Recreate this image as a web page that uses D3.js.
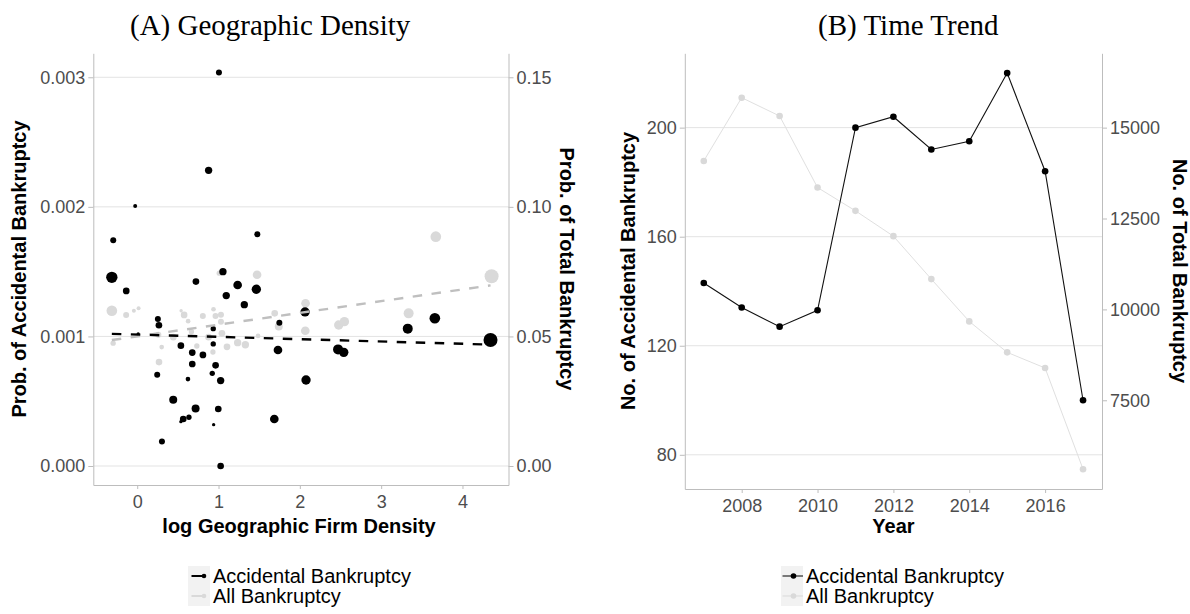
<!DOCTYPE html>
<html>
<head>
<meta charset="utf-8">
<script src="https://cdn.jsdelivr.net/npm/d3@7"></script>
<style>
  body { margin: 0; background: #fff; }
  svg { display: block; }
  .tick text { font-family: "Liberation Sans", Arial, sans-serif; font-size: 18px; fill: #4d4d4d; }
  .axis path, .axis line { stroke: #bdbdbd; }
  .ttl { font-family: "Liberation Serif", "Times New Roman", serif; font-size: 29px; fill: #000; }
  .atitle { font-family: "Liberation Sans", Arial, sans-serif; font-size: 20px; font-weight: bold; fill: #000; }
  .leg { font-family: "Liberation Sans", Arial, sans-serif; font-size: 20px; fill: #000; }
</style>
</head>
<body>
<svg width="1190" height="614"></svg>
<script>
// ---- panel A: region level probabilities vs log density
const accX = [1.005, 0.878, -0.025, -0.295, 1.477, -0.312, -0.135, 0.722, 1.054, 1.235, 1.465, 1.095, 1.317, 2.064, 1.748,
  3.327, 3.66, 4.345, 0.254, 0.267, 0.935, 0.012, 0.537, 0.935, 0.677, 0.808, 1.731, 2.47, 2.54, 0.677, 0.964, 0.246,
  0.923, 0.624, 1.026, 2.076, 0.443, 0.718, 0.997, 0.566, 0.636, 0.537, 0.94, 1.686, 0.304, 1.026];
const accProb = [0.003036, 0.002282, 0.002007, 0.001742, 0.001788, 0.001456, 0.001351, 0.001423, 0.0015, 0.001397,
  0.001364, 0.001315, 0.001245, 0.001189, 0.001106, 0.00106, 0.00114, 0.000972, 0.001135, 0.001086, 0.00106, 0.001019,
  0.000929, 0.000942, 0.000875, 0.000857, 0.000895, 0.0009, 0.000877, 0.000787, 0.000777, 0.000705, 0.000715, 0.000671,
  0.000659, 0.000664, 0.000512, 0.000443, 0.00044, 0.000363, 0.000376, 0.000342, 0.000319, 0.000363, 0.00019, 0.0];
const accSize = [9, 11, 6, 9, 9, 17, 10, 10, 11, 13, 14, 11, 11, 14, 9, 15, 16, 21, 9, 10, 8, 5, 10, 8, 10, 10, 13, 15, 14,
  10, 10, 9, 8, 7, 11, 14, 12, 12, 10, 10, 8, 5, 5, 13, 9, 10];

const totX = [3.672, 4.358, 1.474, 1.009, -0.312, -0.136, -0.041, 0.017, -0.296, 0.268, 0.301, 0.54, 0.577, 0.626, 0.807,
  0.938, 0.963, 1.03, 1.03, 1.042, 0.444, 0.667, 0.733, 0.877, 0.931, 1.104, 1.235, 1.33, 1.486, 1.691, 1.741, 2.07,
  2.067, 2.478, 2.548, 3.338, 0.26];
const totProb = [0.0885, 0.0732, 0.0738, 0.0744, 0.0599, 0.0583, 0.0599, 0.0609, 0.0474, 0.0401, 0.0459, 0.0599, 0.0583,
  0.0559, 0.0579, 0.0605, 0.0579, 0.0584, 0.0557, 0.0512, 0.0497, 0.0518, 0.0463, 0.0497, 0.044, 0.046, 0.0476, 0.0468,
  0.0502, 0.0589, 0.0538, 0.0628, 0.0522, 0.0544, 0.0557, 0.0589, 0.0506];
const totSize = [16, 21, 13, 8, 16, 9, 6, 6, 8, 10, 7, 5, 10, 7, 9, 7, 9, 9, 9, 10, 10, 8, 8, 10, 8, 10, 11, 11, 7, 10, 12,
  13, 13, 14, 14, 15, 9];

// fitted lines (end points)
const fitX = [-0.312, 4.345];
const accFit = [0.00102, 0.000937];
const totFit = [0.0486, 0.0697];

const xTicksA = [0, 1, 2, 3, 4];
const yTicksA = [0, 0.001, 0.002, 0.003];
const yTicksARight = [0, 0.05, 0.10, 0.15];

// ---- panel B: yearly counts
const years = [2007, 2008, 2009, 2010, 2011, 2012, 2013, 2014, 2015, 2016, 2017];
const accCount = [143, 134, 127, 133, 200, 204, 192, 195, 220, 184, 100];
const totCount = [14084, 15824, 15320, 13352, 12711, 12015, 10833, 9670, 8818, 8388, 5604];
const xTicksB = [2008, 2010, 2012, 2014, 2016];
const yTicksB = [80, 120, 160, 200];
const yTicksBRight = [7500, 10000, 12500, 15000];

const seriesNames = ["Accidental Bankruptcy", "All Bankruptcy"];
const BLACK = "#000", GREY = "#d9d9d9";

const svg = d3.select("svg");
svg.append("rect").attr("width", 1190).attr("height", 614).attr("fill", "#fff");

function frame(x, yL, yR, xt, ylt, yrt, fmtL, fmtR) {
    const [x0, x1] = x.range();
    const [y0, y1] = yL.range();
    const g = svg.append("g");
    g.selectAll(".grid").data(ylt).enter().append("line")
        .attr("x1", x0).attr("x2", x1)
        .attr("y1", d => yL(d)).attr("y2", d => yL(d))
        .attr("stroke", "#e3e3e3").attr("stroke-width", 1);
    g.append("g").attr("class", "axis").attr("transform", `translate(${x0},0)`)
        .call(d3.axisLeft(yL).tickValues(ylt).tickFormat(fmtL).tickSize(5).tickSizeOuter(0).tickPadding(3));
    g.append("g").attr("class", "axis").attr("transform", `translate(${x1},0)`)
        .call(d3.axisRight(yR).tickValues(yrt).tickFormat(fmtR).tickSize(5).tickSizeOuter(0).tickPadding(3));
    g.append("g").attr("class", "axis").attr("transform", `translate(0,${y0})`)
        .call(d3.axisBottom(x).tickValues(xt).tickFormat(d3.format("d")).tickSize(4).tickSizeOuter(0).tickPadding(6));
    g.selectAll(".tick text").attr("fill", "#4d4d4d");
    return g;
}

function vtitle(text, x, y, rot) {
    svg.append("text").attr("class", "atitle")
        .attr("transform", `translate(${x},${y}) rotate(${rot})`)
        .attr("text-anchor", "middle").text(text);
}

function legend(x, withCross, rows) {
    rows.forEach((r, i) => {
        const cy = 576 + i * 20;
        svg.append("rect").attr("x", x).attr("y", cy - 10).attr("width", 22).attr("height", 20).attr("fill", "#f2f2f2");
        if (withCross) {
            svg.append("line").attr("x1", x + 1.5).attr("x2", x + 22).attr("y1", cy).attr("y2", cy)
                .attr("stroke", r.color).attr("stroke-width", 1);
            svg.append("circle").attr("cx", x + 12.5).attr("cy", cy).attr("r", 2.8).attr("fill", r.color);
        } else {
            svg.append("line").attr("x1", x + 3.5).attr("x2", x + 16).attr("y1", cy).attr("y2", cy)
                .attr("stroke", r.color).attr("stroke-width", 2);
            svg.append("circle").attr("cx", x + 16).attr("cy", cy).attr("r", 2.3).attr("fill", r.color);
        }
        svg.append("text").attr("class", "leg").attr("x", x + 25).attr("y", cy + 7).text(r.name);
    });
}

// ================= Panel A
const xA = d3.scaleLinear().domain([-0.54, 4.566]).range([93.3, 508.5]);
const yA = d3.scaleLinear().domain([-0.0001466, 0.003185]).range([485, 53.3]);
const yAR = d3.scaleLinear().domain(yA.domain().map(v => v * 50)).range(yA.range());
const rA = d3.scaleLinear().domain([0, 21]).range([0, 7]);

frame(xA, yA, yAR, xTicksA, yTicksA, yTicksARight, d3.format(".3f"), d3.format(".2f"));

const pA = svg.append("g");
pA.selectAll(".tot").data(totX).enter().append("circle")
    .attr("cx", d => xA(d)).attr("cy", (d, i) => yAR(totProb[i])).attr("r", (d, i) => rA(totSize[i]))
    .attr("fill", GREY);
pA.selectAll(".acc").data(accX).enter().append("circle")
    .attr("cx", d => xA(d)).attr("cy", (d, i) => yA(accProb[i])).attr("r", (d, i) => rA(accSize[i]))
    .attr("fill", BLACK);

const fitTot = d3.line().x(d => xA(d[0])).y(d => yAR(d[1]));
const fitAcc = d3.line().x(d => xA(d[0])).y(d => yA(d[1]));
pA.append("path").datum(fitX.map((v, i) => [v, totFit[i]])).attr("d", fitTot)
    .attr("fill", "none").attr("stroke", "#bfbfbf").attr("stroke-width", 2.4).attr("stroke-dasharray", "9.5,9.5");
pA.append("path").datum(fitX.map((v, i) => [v, accFit[i]])).attr("d", fitAcc)
    .attr("fill", "none").attr("stroke", BLACK).attr("stroke-width", 2.4).attr("stroke-dasharray", "9.5,9.5");

svg.append("text").attr("class", "ttl").attr("x", 130).attr("y", 35).text("(A) Geographic Density");
vtitle("Prob. of Accidental Bankruptcy", 26, 269, -90);
vtitle("Prob. of Total Bankruptcy", 560, 269, 90);
svg.append("text").attr("class", "atitle").attr("x", xA(1.99)).attr("y", 533).attr("text-anchor", "middle")
    .text("log Geographic Firm Density");
legend(188, false, [{ name: seriesNames[0], color: BLACK }, { name: seriesNames[1], color: GREY }]);

// ================= Panel B
const allB = accCount.concat(totCount.map(v => v / 75));
const [lo, hi] = d3.extent(allB);
const pad = (hi - lo) * 0.05;
const xB = d3.scaleLinear().domain([2006.5, 2017.5]).range([684.8, 1102]);
const yB = d3.scaleLinear().domain([lo - pad, hi + pad]).range([489, 53.3]);
const yBR = d3.scaleLinear().domain(yB.domain().map(v => v * 75)).range(yB.range());

frame(xB, yB, yBR, xTicksB, yTicksB, yTicksBRight, d3.format("d"), d3.format("d"));

const pB = svg.append("g");
pB.append("path").datum(years).attr("fill", "none").attr("stroke", "#e0e0e0").attr("stroke-width", 1)
    .attr("d", d3.line().x(d => xB(d)).y((d, i) => yBR(totCount[i])));
pB.selectAll(".tp").data(years).enter().append("circle")
    .attr("cx", d => xB(d)).attr("cy", (d, i) => yBR(totCount[i])).attr("r", 3.3).attr("fill", GREY);
pB.append("path").datum(years).attr("fill", "none").attr("stroke", "#111").attr("stroke-width", 1.1)
    .attr("d", d3.line().x(d => xB(d)).y((d, i) => yB(accCount[i])));
pB.selectAll(".ap").data(years).enter().append("circle")
    .attr("cx", d => xB(d)).attr("cy", (d, i) => yB(accCount[i])).attr("r", 3.3).attr("fill", BLACK);

svg.append("text").attr("class", "ttl").attr("x", 818).attr("y", 35).text("(B) Time Trend");
vtitle("No. of Accidental Bankruptcy", 634.5, 271, -90);
vtitle("No. of Total Bankruptcy", 1173, 271, 90);
svg.append("text").attr("class", "atitle").attr("x", xB(2012)).attr("y", 533).attr("text-anchor", "middle").text("Year");
legend(781, true, [{ name: seriesNames[0], color: BLACK }, { name: seriesNames[1], color: GREY }]);
</script>
</body>
</html>
